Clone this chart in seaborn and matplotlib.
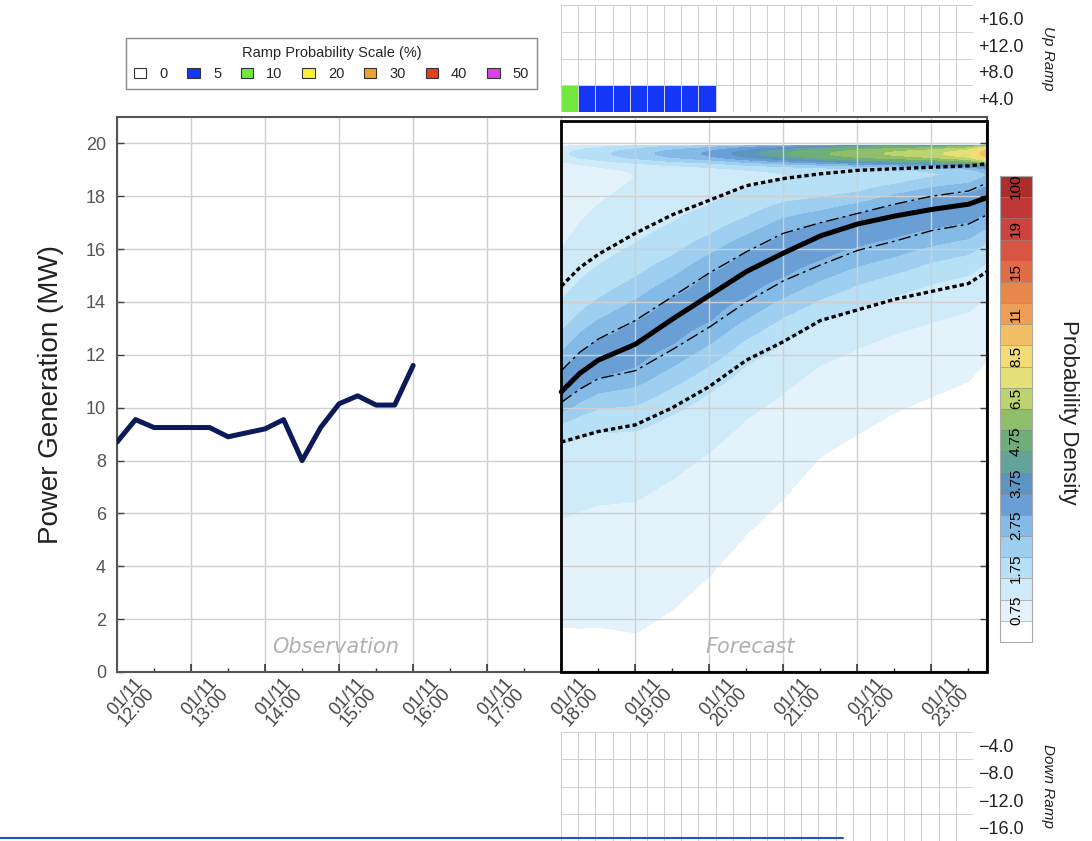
import numpy as np
import pandas as pd
import matplotlib
matplotlib.use("Agg")
import matplotlib.pyplot as plt
import seaborn as sns
from matplotlib.colors import ListedColormap, BoundaryNorm
from matplotlib.patches import Rectangle, Patch
from matplotlib.lines import Line2D
from matplotlib.transforms import ScaledTranslation

sns.set_theme(style="white")
plt.rcParams["font.family"] = ["Liberation Sans", "DejaVu Sans"]

# observed generation, 15 min steps (hour of day, MW)
obsHours = [12.0, 12.25, 12.5, 12.75, 13.0, 13.25, 13.5, 13.75, 14.0, 14.25,
            14.5, 14.75, 15.0, 15.25, 15.5, 15.75, 16.0]
obsPower = [8.7, 9.55, 9.25, 9.25, 9.25, 9.25, 8.9, 9.05, 9.2, 9.55,
            8.0, 9.25, 10.15, 10.45, 10.1, 10.1, 11.6]

# forecast quantile lines
fcHours = [18.0, 18.25, 18.5, 19.0, 19.5, 20.0, 20.5, 21.0, 21.5, 22.0, 22.5, 23.0, 23.5, 23.75]
fcMedian = [10.6, 11.3, 11.8, 12.4, 13.35, 14.25, 15.15, 15.85, 16.5, 16.95, 17.25, 17.5, 17.7, 17.95]
fcUpperInner = [11.4, 12.1, 12.6, 13.3, 14.2, 15.1, 15.9, 16.6, 17.0, 17.35, 17.7, 18.0, 18.2, 18.5]
fcLowerInner = [10.2, 10.7, 11.1, 11.4, 12.2, 13.05, 14.0, 14.8, 15.4, 15.95, 16.3, 16.7, 16.95, 17.3]
fcUpperOuter = [14.6, 15.3, 15.8, 16.6, 17.3, 17.85, 18.4, 18.67, 18.85, 18.98, 19.04, 19.1, 19.15, 19.23]
fcLowerOuter = [8.7, 8.9, 9.1, 9.35, 10.0, 10.8, 11.8, 12.5, 13.3, 13.7, 14.1, 14.4, 14.7, 15.15]
# density piled up near rated capacity (~19.6 MW)
capDensity = [0.9, 1.0, 1.1, 1.4, 1.7, 2.0, 2.6, 3.2, 3.9, 4.6, 5.1, 5.6, 6.6, 9.0]

# probability density colour scale
densityLevels = [0, 0.75, 1.25, 1.75, 2.25, 2.75, 3.25, 3.75, 4.25, 4.75, 5.6, 6.5,
                 7.5, 8.5, 9.75, 11, 13, 15, 17, 19, 60, 100, 150]
densityColors = ["#ffffff", "#e4f3fb", "#cfeaf8", "#b7dff5", "#9fcff0", "#84bbe6",
                 "#6a9fd6", "#5e95c0", "#64a39c", "#6fae78", "#8fbf6a", "#bdd46e",
                 "#e4e07a", "#f3dc78", "#f2bf66", "#ee9f55", "#e8874b", "#e06b44",
                 "#d85543", "#cc4440", "#bd3836", "#a92e2c"]
densityTickValues = [0.75, 1.75, 2.75, 3.75, 4.75, 6.5, 8.5, 11, 15, 19, 100]

# ramp probabilities (%), 24 columns, rows from top
rampScaleValues = [0, 5, 10, 20, 30, 40, 50]
rampScaleColors = ["#ffffff", "#1437f7", "#72e83e", "#f5f03a", "#f0a030", "#e4401e", "#e040e8"]
upRampLabels = ["+16.0", "+12.0", "+8.0", "+4.0"]
upRampProb = [
    [0, 0, 0, 0, 0, 0, 0, 0, 0, 0, 0, 0, 0, 0, 0, 0, 0, 0, 0, 0, 0, 0, 0, 0],
    [0, 0, 0, 0, 0, 0, 0, 0, 0, 0, 0, 0, 0, 0, 0, 0, 0, 0, 0, 0, 0, 0, 0, 0],
    [0, 0, 0, 0, 0, 0, 0, 0, 0, 0, 0, 0, 0, 0, 0, 0, 0, 0, 0, 0, 0, 0, 0, 0],
    [10, 5, 5, 5, 5, 5, 5, 5, 5, 0, 0, 0, 0, 0, 0, 0, 0, 0, 0, 0, 0, 0, 0, 0],
]
downRampLabels = ["\u22124.0", "\u22128.0", "\u221212.0", "\u221216.0"]
downRampProb = [
    [0, 0, 0, 0, 0, 0, 0, 0, 0, 0, 0, 0, 0, 0, 0, 0, 0, 0, 0, 0, 0, 0, 0, 0],
    [0, 0, 0, 0, 0, 0, 0, 0, 0, 0, 0, 0, 0, 0, 0, 0, 0, 0, 0, 0, 0, 0, 0, 0],
    [0, 0, 0, 0, 0, 0, 0, 0, 0, 0, 0, 0, 0, 0, 0, 0, 0, 0, 0, 0, 0, 0, 0, 0],
    [0, 0, 0, 0, 0, 0, 0, 0, 0, 0, 0, 0, 0, 0, 0, 0, 0, 0, 0, 0, 0, 0, 0, 0],
]

hourTicks = list(range(12, 24))
W, H = 1092, 841

fig = plt.figure(figsize=(W / 100, H / 100), dpi=100)
ax = fig.add_axes([117 / W, 1 - 672 / H, 870 / W, 555 / H])
ax.set_axisbelow("line")

# density field built from the read quantile lines
m = np.array(fcMedian)
ui, li = np.array(fcUpperInner), np.array(fcLowerInner)
uo, lo = np.array(fcUpperOuter), np.array(fcLowerOuter)
powerGrid = np.arange(0, 20.001, 0.05)
dist = powerGrid[:, None] - m[None, :]
above = dist >= 0
innerSigma = np.where(above, ui - m, m - li) / 0.674
outerSigma = np.where(above, uo - m, m - lo) / 1.645
tailSigma = (uo - lo) / 3.29
gauss = lambda z: np.exp(-0.5 * z ** 2)
density = (1.0 * gauss(dist / innerSigma) + 0.9 * gauss(dist / outerSigma)
           + 0.85 * gauss(dist / (3 * tailSigma)) + 0.75 * gauss(dist / (6 * tailSigma))
           + np.array(capDensity)[None, :] * gauss((powerGrid[:, None] - 19.62) / 0.28))
density[powerGrid > 19.95, :] = 0

densityCmap = ListedColormap(densityColors)
densityNorm = BoundaryNorm(densityLevels, densityCmap.N)
cf = ax.contourf(fcHours, powerGrid, density, levels=densityLevels, cmap=densityCmap,
                 norm=densityNorm, zorder=1)

# lines
sns.lineplot(x=obsHours, y=obsPower, ax=ax, color="#0b1a58", linewidth=3.6, zorder=4)
sns.lineplot(x=fcHours, y=fcUpperOuter, ax=ax, color="black", linewidth=2.4,
             linestyle=(0, (1.3, 0.9)), zorder=4)
sns.lineplot(x=fcHours, y=fcLowerOuter, ax=ax, color="black", linewidth=2.4,
             linestyle=(0, (1.3, 0.9)), zorder=4)
sns.lineplot(x=fcHours, y=fcUpperInner, ax=ax, color="black", linewidth=1.0,
             linestyle=(0, (9, 3, 2, 3)), zorder=4)
sns.lineplot(x=fcHours, y=fcLowerInner, ax=ax, color="black", linewidth=1.0,
             linestyle=(0, (9, 3, 2, 3)), zorder=4)
sns.lineplot(x=fcHours, y=fcMedian, ax=ax, color="black", linewidth=3.6, zorder=5)

ax.add_patch(Rectangle((18, 0), 5.75, 20.83, fill=False, edgecolor="black",
                       linewidth=2.0, zorder=6, clip_on=False))

ax.set_xlim(12, 23.75)
ax.set_ylim(0, 21)
ax.grid(True, which="major", color="#cfcfcf", linewidth=1.0)
ax.set_xticks(hourTicks)
ax.set_xticks(np.arange(12.5, 23.75, 1.0), minor=True)
ax.set_yticks(range(0, 21, 2))
ax.tick_params(axis="x", which="major", direction="in", length=6, width=1.2,
               color="#333", pad=2, bottom=True)
ax.tick_params(axis="x", which="minor", direction="in", length=3, width=1.0,
               color="#333", bottom=True)
ax.tick_params(axis="y", direction="in", length=5, width=1.0, color="#444",
               labelsize=13, labelcolor="#555", pad=8, left=True, right=True)
ax.set_xticklabels([f"01/11\n{h}:00" for h in hourTicks], rotation=48, ha="right",
                   va="top", rotation_mode="anchor", fontsize=13, color="#444",
                   linespacing=0.85)
shift = ScaledTranslation(0.17, 0, fig.dpi_scale_trans)
for lbl in ax.get_xticklabels():
    lbl.set_transform(lbl.get_transform() + shift)
for sp in ax.spines.values():
    sp.set_color("#555")
    sp.set_linewidth(1.5)
ax.set_ylabel("Power Generation (MW)", fontsize=20, color="#222")
ax.yaxis.set_label_coords(-(117 - 64) / 870, 0.5)

ax.text(14.95, 0.95, "Observation", ha="center", va="center", fontsize=15,
        fontstyle="italic", color="#b0b0b0", family="DejaVu Sans", zorder=7)
ax.text(20.55, 0.95, "Forecast", ha="center", va="center", fontsize=15,
        fontstyle="italic", color="#b0b0b0", family="DejaVu Sans", zorder=7)

# colour bar
cax = fig.add_axes([1000 / W, 1 - 642 / H, 32 / W, 466 / H])
cb = fig.colorbar(cf, cax=cax, spacing="uniform", drawedges=True, ticks=[])
cax.minorticks_off()
cax.tick_params(which="both", length=0)
cb.outline.set_edgecolor("#aaaaaa")
cb.outline.set_linewidth(0.8)
cb.dividers.set_color("#888888")
cb.dividers.set_linewidth(0.4)
nBands = len(densityLevels) - 1
for v in densityTickValues:
    idx = densityLevels.index(v)
    cax.text(0.5, (idx + 0.5) / nBands, f"{v:g}", transform=cax.transAxes,
             rotation=90, ha="center", va="center", fontsize=11, color="black")
fig.text(1068 / W, 1 - 412 / H, "Probability Density", rotation=270, ha="center",
         va="center", fontsize=16, color="#222")

# ramp panels
rampIndex = {v: i for i, v in enumerate(rampScaleValues)}
rampCmap = ListedColormap(rampScaleColors)


def drawRamp(axis, probs, labels, title):
    frame = pd.DataFrame([[rampIndex[v] for v in row] for row in probs], index=labels)
    sns.heatmap(frame, ax=axis, cmap=rampCmap, vmin=-0.5, vmax=len(rampScaleValues) - 0.5,
                cbar=False, linewidths=0.7, linecolor="#d0d0d0", xticklabels=False,
                yticklabels=labels)
    axis.yaxis.tick_right()
    axis.set_yticklabels(labels, rotation=0, fontsize=13, color="#222")
    axis.tick_params(axis="y", length=0, pad=4)
    axis.yaxis.set_label_position("right")
    axis.set_ylabel(title, rotation=270, fontstyle="italic", fontsize=11,
                    color="#222", labelpad=22)


upAx = fig.add_axes([561 / W, 1 - 112 / H, 412 / W, 107 / H])
drawRamp(upAx, upRampProb, upRampLabels, "Up Ramp")
downAx = fig.add_axes([561 / W, 0, 412 / W, 109 / H])
drawRamp(downAx, downRampProb, downRampLabels, "Down Ramp")

# ramp probability legend
handles = [Patch(facecolor=c, edgecolor="#333", linewidth=0.8) for c in rampScaleColors]
fig.legend(handles, [str(v) for v in rampScaleValues], title="Ramp Probability Scale (%)",
           ncol=7, loc="upper left", bbox_to_anchor=(126 / W, 1 - 38 / H), frameon=True,
           fancybox=False, edgecolor="#888", fontsize=10.5, title_fontsize=10.5,
           handlelength=0.85, handleheight=0.7, handletextpad=0.9, columnspacing=1.35,
           borderpad=0.55, borderaxespad=0, framealpha=1)

fig.add_artist(Line2D([0, 843 / W], [3 / H, 3 / H], transform=fig.transFigure,
                      color="#2050c8", linewidth=1.5))

fig.savefig("out.png", dpi=100)
